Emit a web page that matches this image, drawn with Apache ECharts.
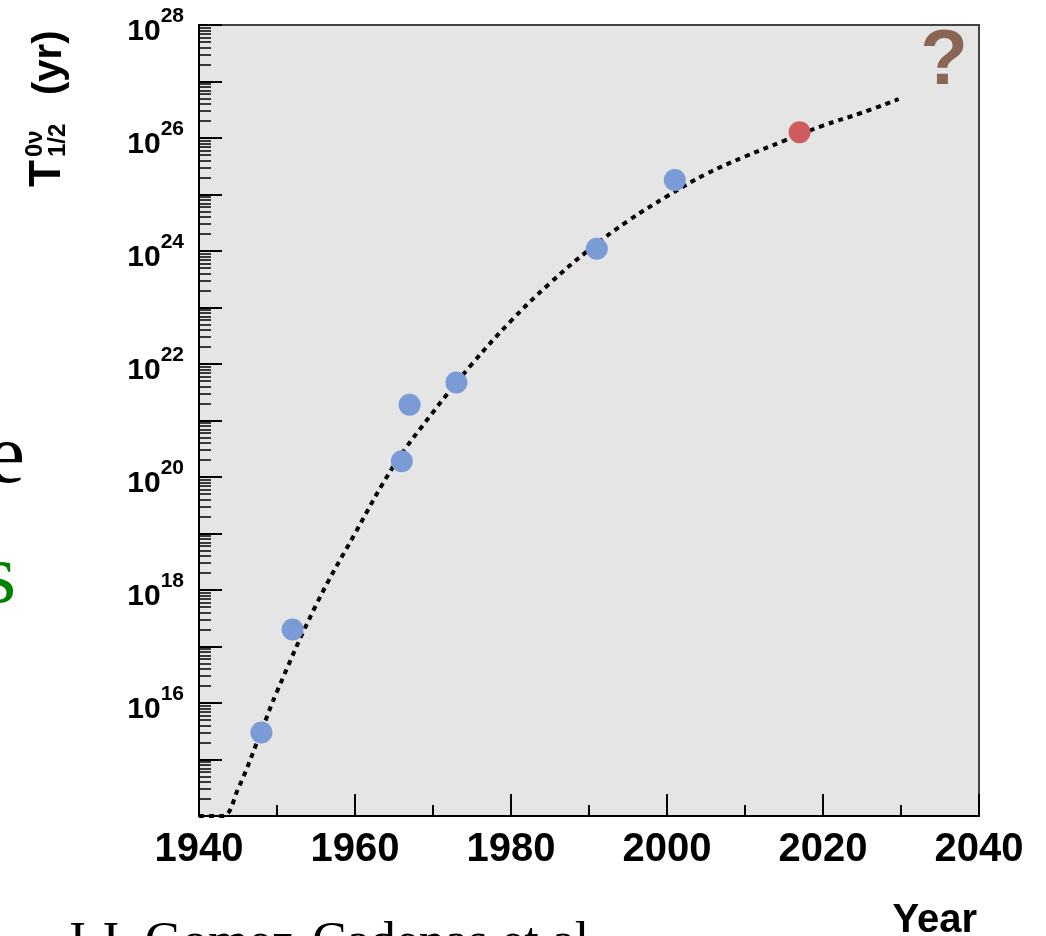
<!DOCTYPE html>
<html>
<head>
<meta charset="utf-8">
<script src="https://cdn.jsdelivr.net/npm/echarts@6/dist/echarts.min.js"></script>
<style>
  html, body { margin: 0; padding: 0; background: #ffffff; }
  #chart { width: 1046px; height: 936px; }
</style>
</head>
<body>
<div id="chart"></div>
<script>
// Measured 0νββ half-life limits by year
const measYears = [1948, 1952, 1966, 1967, 1973, 1991, 2001];
const measHalfLives = [3e15, 2e17, 1.9e20, 1.9e21, 4.7e21, 1.1e24, 1.8e25];

// Most recent limit
const latestYears = [2017];
const latestHalfLives = [1.26e26];

// Trend curve through the limits
const trendYears = [1940, 1943, 1945, 1948, 1950, 1955, 1960, 1965, 1970, 1975, 1980,
                    1985, 1990, 1995, 2000, 2005, 2010, 2015, 2020, 2025, 2029.7];
const trendHalfLives = [1e14, 1e14, 3.0e14, 3.2e15, 1.6e16, 5.4e17, 1e19, 1.6e20, 1.4e21,
                        1e22, 5.8e22, 2.7e23, 1.05e24, 3.4e24, 9.3e24, 2.3e25, 4.7e25,
                        8.9e25, 1.66e26, 2.8e26, 4.9e26];

// Axis ranges and labelled decades
const yearMin = 1940, yearMax = 2040, yearStep = 20;
const halfLifeMin = 1e14, halfLifeMax = 1e28;
const labelledExponents = [16, 18, 20, 22, 24, 26, 28];

// log minor ticks at 2..9 × 10^n
const minorTicks = [];
for (let n = 14; n < 28; n++) {
  for (let m = 2; m <= 9; m++) minorTicks.push(m * Math.pow(10, n));
}

const toPairs = (xs, ys) => xs.map((x, i) => [x, ys[i]]);

const chart = echarts.init(document.getElementById('chart'), null, { renderer: 'canvas' });

const boldFont = "'Liberation Sans', Arial, Helvetica, sans-serif";
const serifFont = "'Liberation Serif', 'Times New Roman', serif";

const baseYAxis = {
  type: 'log',
  logBase: 10,
  min: halfLifeMin,
  max: halfLifeMax,
  position: 'left',
  offset: 0
};

chart.setOption({
  animation: false,
  backgroundColor: '#ffffff',
  grid: {
    left: 199, right: 67, top: 25, bottom: 120,
    outerBoundsMode: 'none',
    containLabel: false,
    show: true,
    backgroundColor: '#e5e5e5',
    borderColor: '#444444',
    borderWidth: 2
  },
  xAxis: {
    type: 'value',
    min: yearMin,
    max: yearMax,
    interval: yearStep,
    name: 'Year',
    nameLocation: 'end',
    nameGap: 0,
    nameTextStyle: {
      fontFamily: boldFont, fontWeight: 'bold', fontSize: 40, color: '#000',
      align: 'right', verticalAlign: 'top', padding: [85, 2, 0, 0]
    },
    axisLine: { show: true, onZero: false, lineStyle: { color: '#000', width: 2 } },
    axisTick: { show: true, inside: true, length: 22, lineStyle: { color: '#000', width: 2 } },
    minorTick: { show: true, splitNumber: 2, length: 11, lineStyle: { color: '#000', width: 2 } },
    splitLine: { show: false },
    axisLabel: {
      fontFamily: boldFont, fontWeight: 'bold', fontSize: 40, color: '#000', margin: 14,
      formatter: function (v) { return String(v); }
    }
  },
  yAxis: [
    Object.assign({}, baseYAxis, {
      interval: 1,
      axisLine: { show: true, onZero: false, lineStyle: { color: '#000', width: 2 } },
      axisTick: { show: true, inside: true, length: 23, lineStyle: { color: '#000', width: 2 } },
      splitLine: { show: false },
      axisLabel: {
        margin: 15,
        padding: [3, 0, 0, 0],
        formatter: function (v) {
          const e = Math.round(Math.log10(v));
          return labelledExponents.indexOf(e) >= 0 ? '{b|10}{s|' + e + '}' : '';
        },
        rich: {
          b: { fontFamily: boldFont, fontWeight: 'bold', fontSize: 30, color: '#000',
               lineHeight: 41, verticalAlign: 'bottom' },
          s: { fontFamily: boldFont, fontWeight: 'bold', fontSize: 21, color: '#000',
               lineHeight: 18, verticalAlign: 'top' }
        }
      }
    }),
    Object.assign({}, baseYAxis, {
      axisLine: { show: false },
      axisTick: { show: true, inside: true, length: 12, customValues: minorTicks,
                  lineStyle: { color: '#000', width: 1.5 } },
      axisLabel: { show: false },
      splitLine: { show: false }
    })
  ],
  series: [
    {
      name: 'trend',
      type: 'line',
      data: toPairs(trendYears, trendHalfLives),
      showSymbol: false,
      symbol: 'none',
      smooth: 0.4,
      clip: true,
      lineStyle: { color: '#000', width: 4, type: [5, 5] },
      z: 2
    },
    {
      name: 'limits',
      type: 'scatter',
      data: toPairs(measYears, measHalfLives),
      symbol: 'circle',
      symbolSize: 22,
      itemStyle: { color: '#7b9bd6', opacity: 1 },
      z: 3
    },
    {
      name: 'latest',
      type: 'scatter',
      data: toPairs(latestYears, latestHalfLives),
      symbol: 'circle',
      symbolSize: 22,
      itemStyle: { color: '#d05b5e', opacity: 1 },
      z: 3
    }
  ],
  graphic: [
    {
      // vertical axis title T^{0ν}_{1/2} (yr), reading bottom to top
      type: 'group',
      x: 0, y: 187,
      rotation: Math.PI / 2,
      children: [
        { type: 'text', x: 0, y: 48,
          style: { text: 'T', font: "bold 44px " + boldFont, fill: '#000', verticalAlign: 'middle', align: 'left' } },
        { type: 'text', x: 30, y: 35,
          style: { text: '0ν', font: "bold 24px " + boldFont, fill: '#000', verticalAlign: 'middle', align: 'left' } },
        { type: 'text', x: 30, y: 58,
          style: { text: '1/2', font: "bold 24px " + boldFont, fill: '#000', verticalAlign: 'middle', align: 'left' } },
        { type: 'text', x: 92, y: 50,
          style: { text: '(yr)', font: "bold 40px " + boldFont, fill: '#000', verticalAlign: 'middle', align: 'left' } }
      ]
    },
    {
      type: 'text', x: 944, y: 62,
      style: { text: '?', font: "bold 78px " + boldFont, fill: '#8a6553', align: 'center', verticalAlign: 'middle' }
    },
    {
      type: 'text', x: 25, y: 460,
      style: { text: 'e', font: "85px " + serifFont, fill: '#000', align: 'right', verticalAlign: 'middle' }
    },
    {
      type: 'text', x: 16, y: 580,
      style: { text: 's', font: "85px " + serifFont, fill: '#008000', align: 'right', verticalAlign: 'middle' }
    },
    {
      type: 'text', x: 65, y: 944,
      style: { text: 'J.J. Gomez-Cadenas et al.', font: "52px " + serifFont, fill: '#000', align: 'left', verticalAlign: 'middle' }
    }
  ]
});
</script>
</body>
</html>
